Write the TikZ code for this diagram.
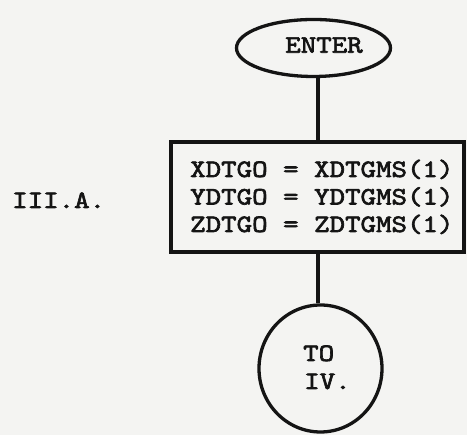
\documentclass[tikz,border=0pt]{standalone}
\usepackage{fontspec}
\usetikzlibrary{shapes.geometric}
\newfontfamily\tw{lmmono10-regular.otf}[FakeStretch=1.18,FakeBold=2.6]
\definecolor{paper}{HTML}{F4F4F2}
\definecolor{ink}{HTML}{141414}
\begin{document}
\begin{tikzpicture}[x=1pt,y=1pt,
  shp/.style={draw=ink,line width=3.3pt,inner sep=0pt},
  lbl/.style={font=\tw\fontsize{25}{27.5}\selectfont,text=ink,inner sep=0pt},
  conn/.style={draw=ink,line width=3.8pt}]
\fill[paper] (0,0) rectangle (467,435);
\useasboundingbox (0,0) rectangle (467,435);
% shapes
\node[shp,ellipse,minimum width=154pt,minimum height=57pt] (e) at (313.5,387) {};
\node[shp,rectangle,minimum width=293pt,minimum height=110pt] (box) at (317.5,238) {};
\node[shp,ellipse,minimum width=123pt,minimum height=127pt] (c) at (320.5,66.5) {};
% texts
\node[lbl,anchor=base] (tenter) at (324,382.3) {ENTER};
\node[lbl,anchor=base west] (tsec) at (12,227) {III.A.};
\node[lbl,anchor=base west] (l1) at (190,258) {XDTGO = XDTGMS(1)};
\node[lbl,anchor=base west] (l2) at (190,230.5) {YDTGO = YDTGMS(1)};
\node[lbl,anchor=base west] (l3) at (190,203) {ZDTGO = ZDTGMS(1)};
\node[lbl,anchor=base west] (tto) at (303,74) {TO};
\node[lbl,anchor=base west] (tiv) at (304,46) {IV.};
% connectors
\coordinate (ctop) at (318,293);
\coordinate (cbot) at (318,183);
\draw[conn] (ctop) -- (ctop |- e.south);
\draw[conn] (cbot) -- (cbot |- c.north);
\end{tikzpicture}
\end{document}
